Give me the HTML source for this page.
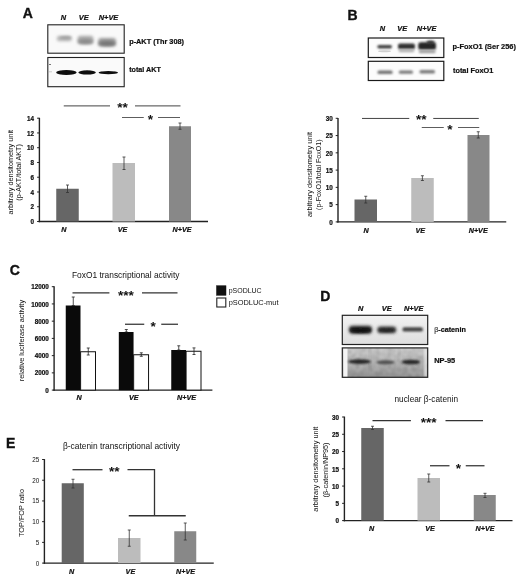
<!DOCTYPE html><html><head><meta charset="utf-8"><title>Figure</title>
<style>html,body{margin:0;padding:0;background:#fff}svg{display:block}text{font-family:'Liberation Sans', Arial, sans-serif}</style></head><body>
<svg width="520" height="579" viewBox="0 0 520 579">
<defs>
<filter id="b1" x="-30%" y="-80%" width="160%" height="260%"><feGaussianBlur stdDeviation="1"/></filter>
<filter id="b15" x="-30%" y="-80%" width="160%" height="260%"><feGaussianBlur stdDeviation="1.5"/></filter>
<filter id="b07" x="-30%" y="-80%" width="160%" height="260%"><feGaussianBlur stdDeviation="0.7"/></filter>
<filter id="b2" x="-30%" y="-80%" width="160%" height="260%"><feGaussianBlur stdDeviation="2"/></filter>
<filter id="noise" x="0" y="0" width="100%" height="100%"><feTurbulence type="fractalNoise" baseFrequency="0.25" numOctaves="2" seed="3"/><feColorMatrix type="matrix" values="0 0 0 0 0  0 0 0 0 0  0 0 0 0 0  0.9 0 0 0 -0.25"/><feGaussianBlur stdDeviation="0.8"/></filter>
<clipPath id="cA1"><rect x="47.8" y="24.8" width="76.4" height="28.4"/></clipPath>
<clipPath id="cA2"><rect x="47.8" y="57.5" width="76.4" height="29.2"/></clipPath>
<clipPath id="cB1"><rect x="368.3" y="38" width="75.5" height="19.5"/></clipPath>
<clipPath id="cB2"><rect x="368.3" y="61.3" width="75.5" height="19.2"/></clipPath>
<clipPath id="cD1"><rect x="342.3" y="315.3" width="85.4" height="29.2"/></clipPath>
<clipPath id="cD2"><rect x="342.3" y="347.9" width="85.4" height="29.4"/></clipPath>
<linearGradient id="gD1" x1="0" y1="0" x2="0" y2="1"><stop offset="0" stop-color="#f2f2f2"/><stop offset="1" stop-color="#dedede"/></linearGradient>
<linearGradient id="gD2" x1="0" y1="0" x2="0" y2="1"><stop offset="0" stop-color="#d2d2d2"/><stop offset="0.5" stop-color="#bdbdbd"/><stop offset="1" stop-color="#9a9a9a"/></linearGradient>
</defs>
<rect width="520" height="579" fill="#fff"/>
<text x="22.7" y="17.9" font-size="14" font-weight="bold" font-style="normal" text-anchor="start" fill="#111" stroke="#111" stroke-width="0.35">A</text>
<text x="63.5" y="19.8" font-size="7.4" font-weight="bold" font-style="italic" text-anchor="middle" fill="#111" stroke="#111" stroke-width="0.22">N</text>
<text x="83.8" y="19.8" font-size="7.4" font-weight="bold" font-style="italic" text-anchor="middle" fill="#111" stroke="#111" stroke-width="0.22">VE</text>
<text x="108.5" y="19.8" font-size="7.4" font-weight="bold" font-style="italic" text-anchor="middle" fill="#111" stroke="#111" stroke-width="0.22">N+VE</text>
<g clip-path="url(#cA1)">
<rect x="47.8" y="24.8" width="76.4" height="28.4" fill="#f9f9f9" />
<rect x="56.8" y="35.8" width="15.0" height="5.400000000000006" rx="2.5" fill="#b8b8b8" opacity="1" filter="url(#b15)"/>
<ellipse cx="65.5" cy="37.8" rx="6.0" ry="1.5" fill="#a0a0a0" opacity="1" filter="url(#b1)"/>
<rect x="77.6" y="35.8" width="15.800000000000011" height="8.400000000000006" rx="3" fill="#acacac" opacity="1" filter="url(#b15)"/>
<ellipse cx="85.4" cy="41.5" rx="7.5" ry="2.5" fill="#8a8a8a" opacity="1" filter="url(#b15)"/>
<rect x="98.2" y="38" width="17.799999999999997" height="8.399999999999999" rx="3" fill="#9c9c9c" opacity="1" filter="url(#b15)"/>
<ellipse cx="107" cy="43.4" rx="8.5" ry="2.5" fill="#747474" opacity="1" filter="url(#b15)"/>
</g>
<rect x="47.8" y="24.8" width="76.4" height="28.4" fill="none" stroke="#222" stroke-width="1.1" />
<g clip-path="url(#cA2)">
<rect x="47.8" y="57.5" width="76.4" height="29.2" fill="#fafafa" />
<ellipse cx="66.4" cy="72.6" rx="10.25" ry="2.5" fill="#0c0c0c" opacity="1" filter="url(#b07)"/>
<ellipse cx="87.1" cy="72.4" rx="8.75" ry="2.1" fill="#0c0c0c" opacity="1" filter="url(#b07)"/>
<ellipse cx="108.3" cy="72.6" rx="9.75" ry="1.7" fill="#0c0c0c" opacity="1" filter="url(#b07)"/>
</g>
<rect x="47.8" y="57.5" width="76.4" height="29.2" fill="none" stroke="#222" stroke-width="1.1" />
<line x1="49" y1="64.5" x2="51" y2="64.5" stroke="#555" stroke-width="0.8"/>
<line x1="48.5" y1="71.8" x2="52" y2="71.8" stroke="#aaa" stroke-width="0.6"/>
<text x="129.2" y="44.2" font-size="7.3" font-weight="bold" font-style="normal" text-anchor="start" fill="#111" textLength="54.8" lengthAdjust="spacingAndGlyphs" stroke="#111" stroke-width="0.22">p-AKT (Thr 308)</text>
<text x="129.2" y="72.1" font-size="7.3" font-weight="bold" font-style="normal" text-anchor="start" fill="#111" textLength="31.7" lengthAdjust="spacingAndGlyphs" stroke="#111" stroke-width="0.22">total AKT</text>
<line x1="39.4" y1="117.8" x2="39.4" y2="222.2" stroke="#222" stroke-width="1.4"/>
<line x1="38.699999999999996" y1="221.5" x2="208" y2="221.5" stroke="#222" stroke-width="1.4"/>
<line x1="37.1" y1="221.5" x2="39.4" y2="221.5" stroke="#222" stroke-width="1"/>
<text x="34.1" y="224.2" font-size="6.3" font-weight="bold" font-style="normal" text-anchor="end" fill="#111" stroke="#111" stroke-width="0.22">0</text>
<line x1="37.1" y1="206.74285714285713" x2="39.4" y2="206.74285714285713" stroke="#222" stroke-width="1"/>
<text x="34.1" y="209.44285714285712" font-size="6.3" font-weight="bold" font-style="normal" text-anchor="end" fill="#111" stroke="#111" stroke-width="0.22">2</text>
<line x1="37.1" y1="191.9857142857143" x2="39.4" y2="191.9857142857143" stroke="#222" stroke-width="1"/>
<text x="34.1" y="194.68571428571428" font-size="6.3" font-weight="bold" font-style="normal" text-anchor="end" fill="#111" stroke="#111" stroke-width="0.22">4</text>
<line x1="37.1" y1="177.22857142857143" x2="39.4" y2="177.22857142857143" stroke="#222" stroke-width="1"/>
<text x="34.1" y="179.92857142857142" font-size="6.3" font-weight="bold" font-style="normal" text-anchor="end" fill="#111" stroke="#111" stroke-width="0.22">6</text>
<line x1="37.1" y1="162.4714285714286" x2="39.4" y2="162.4714285714286" stroke="#222" stroke-width="1"/>
<text x="34.1" y="165.17142857142858" font-size="6.3" font-weight="bold" font-style="normal" text-anchor="end" fill="#111" stroke="#111" stroke-width="0.22">8</text>
<line x1="37.1" y1="147.71428571428572" x2="39.4" y2="147.71428571428572" stroke="#222" stroke-width="1"/>
<text x="34.1" y="150.4142857142857" font-size="6.3" font-weight="bold" font-style="normal" text-anchor="end" fill="#111" stroke="#111" stroke-width="0.22">10</text>
<line x1="37.1" y1="132.95714285714286" x2="39.4" y2="132.95714285714286" stroke="#222" stroke-width="1"/>
<text x="34.1" y="135.65714285714284" font-size="6.3" font-weight="bold" font-style="normal" text-anchor="end" fill="#111" stroke="#111" stroke-width="0.22">12</text>
<line x1="37.1" y1="118.2" x2="39.4" y2="118.2" stroke="#222" stroke-width="1"/>
<text x="34.1" y="120.9" font-size="6.3" font-weight="bold" font-style="normal" text-anchor="end" fill="#111" stroke="#111" stroke-width="0.22">14</text>
<rect x="56.25" y="188.75" width="22.5" height="32.75" fill="#666666" />
<rect x="112.5" y="163" width="22.5" height="58.5" fill="#bcbcbc" />
<rect x="169" y="126.25" width="22" height="95.25" fill="#888888" />
<line x1="67.5" y1="185" x2="67.5" y2="192.5" stroke="#333" stroke-width="0.8"/>
<line x1="66.0" y1="185" x2="69.0" y2="185" stroke="#333" stroke-width="0.8"/>
<line x1="66.0" y1="192.5" x2="69.0" y2="192.5" stroke="#333" stroke-width="0.8"/>
<line x1="124" y1="157" x2="124" y2="169.5" stroke="#333" stroke-width="0.8"/>
<line x1="122.5" y1="157" x2="125.5" y2="157" stroke="#333" stroke-width="0.8"/>
<line x1="122.5" y1="169.5" x2="125.5" y2="169.5" stroke="#333" stroke-width="0.8"/>
<line x1="180" y1="123" x2="180" y2="129.25" stroke="#333" stroke-width="0.8"/>
<line x1="178.5" y1="123" x2="181.5" y2="123" stroke="#333" stroke-width="0.8"/>
<line x1="178.5" y1="129.25" x2="181.5" y2="129.25" stroke="#333" stroke-width="0.8"/>
<line x1="63.75" y1="105.9" x2="110" y2="105.9" stroke="#444" stroke-width="1"/>
<line x1="135" y1="105.9" x2="180.5" y2="105.9" stroke="#444" stroke-width="1"/>
<text x="122.6" y="112.24" font-size="13.6" font-weight="bold" font-style="normal" text-anchor="middle" fill="#111" stroke="none">**</text>
<line x1="122" y1="117.5" x2="143.75" y2="117.5" stroke="#333" stroke-width="0.8"/>
<line x1="158" y1="117.5" x2="180" y2="117.5" stroke="#333" stroke-width="0.8"/>
<text x="150.4" y="124.24" font-size="13.6" font-weight="bold" font-style="normal" text-anchor="middle" fill="#111" stroke="none">*</text>
<text x="63.9" y="231.9" font-size="7.2" font-weight="bold" font-style="italic" text-anchor="middle" fill="#111" stroke="#111" stroke-width="0.22">N</text>
<text x="122.6" y="231.9" font-size="7.2" font-weight="bold" font-style="italic" text-anchor="middle" fill="#111" stroke="#111" stroke-width="0.22">VE</text>
<text x="182" y="231.9" font-size="7.2" font-weight="bold" font-style="italic" text-anchor="middle" fill="#111" stroke="#111" stroke-width="0.22">N+VE</text>
<text x="12.8" y="172.2" font-size="7.3" font-weight="normal" font-style="normal" text-anchor="middle" fill="#111" textLength="84.5" lengthAdjust="spacingAndGlyphs" transform="rotate(-90 12.8 172.2)" >arbitrary densitometry unit</text>
<text x="21.4" y="172.4" font-size="7.3" font-weight="normal" font-style="normal" text-anchor="middle" fill="#111" textLength="56.5" lengthAdjust="spacingAndGlyphs" transform="rotate(-90 21.4 172.4)" >(p-AKT/total AKT)</text>
<text x="347.6" y="20.4" font-size="14" font-weight="bold" font-style="normal" text-anchor="start" fill="#111" stroke="#111" stroke-width="0.35">B</text>
<text x="382.5" y="31.3" font-size="7.4" font-weight="bold" font-style="italic" text-anchor="middle" fill="#111" stroke="#111" stroke-width="0.22">N</text>
<text x="402.2" y="31.3" font-size="7.4" font-weight="bold" font-style="italic" text-anchor="middle" fill="#111" stroke="#111" stroke-width="0.22">VE</text>
<text x="426.6" y="31.3" font-size="7.4" font-weight="bold" font-style="italic" text-anchor="middle" fill="#111" stroke="#111" stroke-width="0.22">N+VE</text>
<g clip-path="url(#cB1)">
<rect x="368.3" y="38" width="75.5" height="19.5" fill="#fcfcfc" />
<rect x="377.3" y="44.9" width="14.699999999999989" height="3.5" rx="1.7" fill="#404040" opacity="1" filter="url(#b1)"/>
<ellipse cx="384.5" cy="51.3" rx="6.5" ry="1.0" fill="#d0d0d0" opacity="1" filter="url(#b07)"/>
<rect x="398" y="43.5" width="17" height="5.700000000000003" rx="2" fill="#303030" opacity="1" filter="url(#b1)"/>
<rect x="398.6" y="49.3" width="15.799999999999955" height="2.9000000000000057" rx="1.5" fill="#b0b0b0" opacity="1" filter="url(#b1)"/>
<rect x="418.2" y="42.2" width="17.80000000000001" height="7.599999999999994" rx="2.5" fill="#262626" opacity="1" filter="url(#b1)"/>
<ellipse cx="430.5" cy="42.3" rx="4.0" ry="1.75" fill="#333" opacity="1" filter="url(#b1)"/>
<rect x="418.8" y="50" width="16.80000000000001" height="3.200000000000003" rx="1.5" fill="#a0a0a0" opacity="1" filter="url(#b1)"/>
</g>
<rect x="368.3" y="38" width="75.5" height="19.5" fill="none" stroke="#1a1a1a" stroke-width="1.2" />
<g clip-path="url(#cB2)">
<rect x="368.3" y="61.3" width="75.5" height="19.2" fill="#fcfcfc" />
<rect x="377.5" y="70.4" width="15.100000000000023" height="3.5" rx="1.5" fill="#747474" opacity="1" filter="url(#b1)"/>
<rect x="398.8" y="70.4" width="14.199999999999989" height="3.3999999999999915" rx="1.5" fill="#7a7a7a" opacity="1" filter="url(#b1)"/>
<rect x="419.5" y="70" width="15.5" height="3.4000000000000057" rx="1.5" fill="#7a7a7a" opacity="1" filter="url(#b1)"/>
</g>
<rect x="368.3" y="61.3" width="75.5" height="19.2" fill="none" stroke="#1a1a1a" stroke-width="1.2" />
<text x="452.6" y="49" font-size="7.5" font-weight="bold" font-style="normal" text-anchor="start" fill="#111" textLength="63.3" lengthAdjust="spacingAndGlyphs" stroke="#111" stroke-width="0.22">p-FoxO1 (Ser 256)</text>
<text x="453" y="72.8" font-size="7.5" font-weight="bold" font-style="normal" text-anchor="start" fill="#111" textLength="40.3" lengthAdjust="spacingAndGlyphs" stroke="#111" stroke-width="0.22">total FoxO1</text>
<line x1="338" y1="117.89999999999999" x2="338" y2="222.6" stroke="#222" stroke-width="1.4"/>
<line x1="337.3" y1="221.9" x2="506.25" y2="221.9" stroke="#222" stroke-width="1.4"/>
<line x1="335.7" y1="221.9" x2="338" y2="221.9" stroke="#222" stroke-width="1"/>
<text x="332.7" y="224.6" font-size="6.3" font-weight="bold" font-style="normal" text-anchor="end" fill="#111" stroke="#111" stroke-width="0.22">0</text>
<line x1="335.7" y1="204.63333333333333" x2="338" y2="204.63333333333333" stroke="#222" stroke-width="1"/>
<text x="332.7" y="207.33333333333331" font-size="6.3" font-weight="bold" font-style="normal" text-anchor="end" fill="#111" stroke="#111" stroke-width="0.22">5</text>
<line x1="335.7" y1="187.36666666666667" x2="338" y2="187.36666666666667" stroke="#222" stroke-width="1"/>
<text x="332.7" y="190.06666666666666" font-size="6.3" font-weight="bold" font-style="normal" text-anchor="end" fill="#111" stroke="#111" stroke-width="0.22">10</text>
<line x1="335.7" y1="170.1" x2="338" y2="170.1" stroke="#222" stroke-width="1"/>
<text x="332.7" y="172.79999999999998" font-size="6.3" font-weight="bold" font-style="normal" text-anchor="end" fill="#111" stroke="#111" stroke-width="0.22">15</text>
<line x1="335.7" y1="152.83333333333334" x2="338" y2="152.83333333333334" stroke="#222" stroke-width="1"/>
<text x="332.7" y="155.53333333333333" font-size="6.3" font-weight="bold" font-style="normal" text-anchor="end" fill="#111" stroke="#111" stroke-width="0.22">20</text>
<line x1="335.7" y1="135.56666666666666" x2="338" y2="135.56666666666666" stroke="#222" stroke-width="1"/>
<text x="332.7" y="138.26666666666665" font-size="6.3" font-weight="bold" font-style="normal" text-anchor="end" fill="#111" stroke="#111" stroke-width="0.22">25</text>
<line x1="335.7" y1="118.3" x2="338" y2="118.3" stroke="#222" stroke-width="1"/>
<text x="332.7" y="121.0" font-size="6.3" font-weight="bold" font-style="normal" text-anchor="end" fill="#111" stroke="#111" stroke-width="0.22">30</text>
<rect x="354.5" y="199.5" width="22.5" height="22.400000000000006" fill="#666666" />
<rect x="411.25" y="178" width="22.5" height="43.900000000000006" fill="#bcbcbc" />
<rect x="467.5" y="135" width="22" height="86.9" fill="#888888" />
<line x1="365.75" y1="196.25" x2="365.75" y2="203" stroke="#333" stroke-width="0.8"/>
<line x1="364.25" y1="196.25" x2="367.25" y2="196.25" stroke="#333" stroke-width="0.8"/>
<line x1="364.25" y1="203" x2="367.25" y2="203" stroke="#333" stroke-width="0.8"/>
<line x1="422.4" y1="175.75" x2="422.4" y2="180.5" stroke="#333" stroke-width="0.8"/>
<line x1="420.9" y1="175.75" x2="423.9" y2="175.75" stroke="#333" stroke-width="0.8"/>
<line x1="420.9" y1="180.5" x2="423.9" y2="180.5" stroke="#333" stroke-width="0.8"/>
<line x1="478.25" y1="131.75" x2="478.25" y2="138" stroke="#333" stroke-width="0.8"/>
<line x1="476.75" y1="131.75" x2="479.75" y2="131.75" stroke="#333" stroke-width="0.8"/>
<line x1="476.75" y1="138" x2="479.75" y2="138" stroke="#333" stroke-width="0.8"/>
<line x1="362" y1="118.45" x2="409.25" y2="118.45" stroke="#3a3a3a" stroke-width="0.95"/>
<line x1="433.25" y1="118.45" x2="478.75" y2="118.45" stroke="#3a3a3a" stroke-width="0.95"/>
<text x="421.2" y="124.44" font-size="13.6" font-weight="bold" font-style="normal" text-anchor="middle" fill="#111" stroke="none">**</text>
<line x1="421.75" y1="127.5" x2="443.75" y2="127.5" stroke="#333" stroke-width="0.8"/>
<line x1="458" y1="127.5" x2="479.25" y2="127.5" stroke="#333" stroke-width="0.8"/>
<text x="450" y="134.14" font-size="13.6" font-weight="bold" font-style="normal" text-anchor="middle" fill="#111" stroke="none">*</text>
<text x="366" y="232.5" font-size="7.2" font-weight="bold" font-style="italic" text-anchor="middle" fill="#111" stroke="#111" stroke-width="0.22">N</text>
<text x="420.3" y="232.5" font-size="7.2" font-weight="bold" font-style="italic" text-anchor="middle" fill="#111" stroke="#111" stroke-width="0.22">VE</text>
<text x="478.2" y="232.5" font-size="7.2" font-weight="bold" font-style="italic" text-anchor="middle" fill="#111" stroke="#111" stroke-width="0.22">N+VE</text>
<text x="312" y="174.5" font-size="7.3" font-weight="normal" font-style="normal" text-anchor="middle" fill="#111" textLength="85" lengthAdjust="spacingAndGlyphs" transform="rotate(-90 312 174.5)" >arbitrary densitometry unit</text>
<text x="321.2" y="174.7" font-size="7.3" font-weight="normal" font-style="normal" text-anchor="middle" fill="#111" textLength="70.5" lengthAdjust="spacingAndGlyphs" transform="rotate(-90 321.2 174.7)" >(p-FoxO1/total FoxO1)</text>
<text x="9.7" y="274.9" font-size="14" font-weight="bold" font-style="normal" text-anchor="start" fill="#111" stroke="#111" stroke-width="0.35">C</text>
<text x="72" y="277.7" font-size="8.4" font-weight="normal" font-style="normal" text-anchor="start" fill="#111" textLength="107.5" lengthAdjust="spacingAndGlyphs" >FoxO1 transcriptional activity</text>
<line x1="54.1" y1="286.3" x2="54.1" y2="390.8" stroke="#222" stroke-width="1.4"/>
<line x1="53.4" y1="390.1" x2="212.4" y2="390.1" stroke="#222" stroke-width="1.4"/>
<line x1="51.800000000000004" y1="390.1" x2="54.1" y2="390.1" stroke="#222" stroke-width="1"/>
<text x="48.85" y="392.70000000000005" font-size="6.3" font-weight="bold" font-style="normal" text-anchor="end" fill="#111" stroke="#111" stroke-width="0.22">0</text>
<line x1="51.800000000000004" y1="372.8666666666667" x2="54.1" y2="372.8666666666667" stroke="#222" stroke-width="1"/>
<text x="48.85" y="375.4666666666667" font-size="6.3" font-weight="bold" font-style="normal" text-anchor="end" fill="#111" stroke="#111" stroke-width="0.22">2000</text>
<line x1="51.800000000000004" y1="355.6333333333333" x2="54.1" y2="355.6333333333333" stroke="#222" stroke-width="1"/>
<text x="48.85" y="358.23333333333335" font-size="6.3" font-weight="bold" font-style="normal" text-anchor="end" fill="#111" stroke="#111" stroke-width="0.22">4000</text>
<line x1="51.800000000000004" y1="338.4" x2="54.1" y2="338.4" stroke="#222" stroke-width="1"/>
<text x="48.85" y="341.0" font-size="6.3" font-weight="bold" font-style="normal" text-anchor="end" fill="#111" stroke="#111" stroke-width="0.22">6000</text>
<line x1="51.800000000000004" y1="321.1666666666667" x2="54.1" y2="321.1666666666667" stroke="#222" stroke-width="1"/>
<text x="48.85" y="323.7666666666667" font-size="6.3" font-weight="bold" font-style="normal" text-anchor="end" fill="#111" stroke="#111" stroke-width="0.22">8000</text>
<line x1="51.800000000000004" y1="303.93333333333334" x2="54.1" y2="303.93333333333334" stroke="#222" stroke-width="1"/>
<text x="48.85" y="306.53333333333336" font-size="6.3" font-weight="bold" font-style="normal" text-anchor="end" fill="#111" stroke="#111" stroke-width="0.22">10000</text>
<line x1="51.800000000000004" y1="286.7" x2="54.1" y2="286.7" stroke="#222" stroke-width="1"/>
<text x="48.85" y="289.3" font-size="6.3" font-weight="bold" font-style="normal" text-anchor="end" fill="#111" stroke="#111" stroke-width="0.22">12000</text>
<rect x="65.75" y="305.5" width="14.75" height="84.60000000000002" fill="#0a0a0a" />
<rect x="80.6" y="351.75" width="14.9" height="38.35000000000002" fill="#fff" stroke="#111" stroke-width="1" />
<rect x="118.8" y="332" width="14.75" height="58.10000000000002" fill="#0a0a0a" />
<rect x="133.65" y="354.75" width="14.9" height="35.35000000000002" fill="#fff" stroke="#111" stroke-width="1" />
<rect x="171.25" y="350" width="14.75" height="40.10000000000002" fill="#0a0a0a" />
<rect x="186.1" y="351.25" width="14.9" height="38.85000000000002" fill="#fff" stroke="#111" stroke-width="1" />
<line x1="73.25" y1="297" x2="73.25" y2="305.5" stroke="#222" stroke-width="0.8"/>
<line x1="71.75" y1="297" x2="74.75" y2="297" stroke="#222" stroke-width="0.8"/>
<line x1="71.75" y1="305.5" x2="74.75" y2="305.5" stroke="#222" stroke-width="0.8"/>
<line x1="88.25" y1="348" x2="88.25" y2="355" stroke="#222" stroke-width="0.8"/>
<line x1="86.75" y1="348" x2="89.75" y2="348" stroke="#222" stroke-width="0.8"/>
<line x1="86.75" y1="355" x2="89.75" y2="355" stroke="#222" stroke-width="0.8"/>
<line x1="126.3" y1="329.5" x2="126.3" y2="332" stroke="#222" stroke-width="0.8"/>
<line x1="124.8" y1="329.5" x2="127.8" y2="329.5" stroke="#222" stroke-width="0.8"/>
<line x1="124.8" y1="332" x2="127.8" y2="332" stroke="#222" stroke-width="0.8"/>
<line x1="141.3" y1="352.8" x2="141.3" y2="356.3" stroke="#222" stroke-width="0.8"/>
<line x1="139.8" y1="352.8" x2="142.8" y2="352.8" stroke="#222" stroke-width="0.8"/>
<line x1="139.8" y1="356.3" x2="142.8" y2="356.3" stroke="#222" stroke-width="0.8"/>
<line x1="178.75" y1="345.8" x2="178.75" y2="350" stroke="#222" stroke-width="0.8"/>
<line x1="177.25" y1="345.8" x2="180.25" y2="345.8" stroke="#222" stroke-width="0.8"/>
<line x1="177.25" y1="350" x2="180.25" y2="350" stroke="#222" stroke-width="0.8"/>
<line x1="194" y1="347.9" x2="194" y2="354.5" stroke="#222" stroke-width="0.8"/>
<line x1="192.5" y1="347.9" x2="195.5" y2="347.9" stroke="#222" stroke-width="0.8"/>
<line x1="192.5" y1="354.5" x2="195.5" y2="354.5" stroke="#222" stroke-width="0.8"/>
<line x1="72.5" y1="292.8" x2="109.4" y2="292.8" stroke="#333" stroke-width="1.25"/>
<line x1="142" y1="292.8" x2="177.5" y2="292.8" stroke="#333" stroke-width="1.25"/>
<text x="125.9" y="299.54" font-size="13.6" font-weight="bold" font-style="normal" text-anchor="middle" fill="#111" stroke="none">***</text>
<line x1="125" y1="324.25" x2="144.25" y2="324.25" stroke="#333" stroke-width="1.25"/>
<line x1="161.25" y1="324.25" x2="178" y2="324.25" stroke="#333" stroke-width="1.25"/>
<text x="153.2" y="331.14" font-size="13.6" font-weight="bold" font-style="normal" text-anchor="middle" fill="#111" stroke="none">*</text>
<text x="79.2" y="399.8" font-size="7.2" font-weight="bold" font-style="italic" text-anchor="middle" fill="#111" stroke="#111" stroke-width="0.22">N</text>
<text x="133.75" y="399.7" font-size="7.2" font-weight="bold" font-style="italic" text-anchor="middle" fill="#111" stroke="#111" stroke-width="0.22">VE</text>
<text x="186.6" y="399.7" font-size="7.2" font-weight="bold" font-style="italic" text-anchor="middle" fill="#111" stroke="#111" stroke-width="0.22">N+VE</text>
<text x="24.5" y="340.6" font-size="7.3" font-weight="normal" font-style="normal" text-anchor="middle" fill="#111" textLength="81.3" lengthAdjust="spacingAndGlyphs" transform="rotate(-90 24.5 340.6)" >relative luciferase activity</text>
<rect x="216.5" y="285.75" width="9.5" height="9.5" fill="#111" stroke="#111" stroke-width="0.5" />
<rect x="216.8" y="298" width="9" height="9" fill="#fff" stroke="#222" stroke-width="1.1" />
<text x="228.75" y="293.2" font-size="7.4" font-weight="normal" font-style="normal" text-anchor="start" fill="#111" textLength="32.9" lengthAdjust="spacingAndGlyphs" >pSODLUC</text>
<text x="228.75" y="305.2" font-size="7.4" font-weight="normal" font-style="normal" text-anchor="start" fill="#111" textLength="49.7" lengthAdjust="spacingAndGlyphs" >pSODLUC-mut</text>
<text x="320.2" y="301.3" font-size="14" font-weight="bold" font-style="normal" text-anchor="start" fill="#111" stroke="#111" stroke-width="0.35">D</text>
<text x="360.7" y="310.8" font-size="7.4" font-weight="bold" font-style="italic" text-anchor="middle" fill="#111" stroke="#111" stroke-width="0.22">N</text>
<text x="386.8" y="310.8" font-size="7.4" font-weight="bold" font-style="italic" text-anchor="middle" fill="#111" stroke="#111" stroke-width="0.22">VE</text>
<text x="413.7" y="310.8" font-size="7.4" font-weight="bold" font-style="italic" text-anchor="middle" fill="#111" stroke="#111" stroke-width="0.22">N+VE</text>
<g clip-path="url(#cD1)">
<rect x="342.3" y="315.3" width="85.4" height="29.2" fill="url(#gD1)" />
<rect x="348.8" y="325.8" width="23.399999999999977" height="8.0" rx="4" fill="#242424" opacity="1" filter="url(#b15)"/>
<ellipse cx="360.4" cy="330.4" rx="10.0" ry="2.0" fill="#111" opacity="1" filter="url(#b1)"/>
<rect x="377.3" y="326.6" width="18.899999999999977" height="6.599999999999966" rx="3.3" fill="#343434" opacity="1" filter="url(#b15)"/>
<ellipse cx="386.5" cy="330.3" rx="7.5" ry="1.5" fill="#222" opacity="1" filter="url(#b1)"/>
<rect x="402.4" y="327.2" width="20.600000000000023" height="4.400000000000034" rx="2.2" fill="#444" opacity="1" filter="url(#b1)"/>
</g>
<rect x="342.3" y="315.3" width="85.4" height="29.2" fill="none" stroke="#222" stroke-width="1.2" />
<g clip-path="url(#cD2)">
<rect x="342.3" y="347.9" width="85.4" height="29.4" fill="url(#gD2)" />
<rect x="342.3" y="347.9" width="85.4" height="29.4" fill="#000" filter="url(#noise)" opacity="0.35"/>
<rect x="343.3" y="347.9" width="4.2" height="29.4" fill="#f4f4f4" filter="url(#b07)"/>
<rect x="424.3" y="347.9" width="2.8" height="29.4" fill="#eee" filter="url(#b1)" opacity="0.8"/>
<rect x="369.3" y="347.9" width="1.4" height="29.4" fill="#888" filter="url(#b1)" opacity="0.4"/>
<rect x="398.3" y="347.9" width="1.4" height="29.4" fill="#999" filter="url(#b1)" opacity="0.35"/>
<ellipse cx="359.5" cy="361.6" rx="11.5" ry="2.3" fill="#262626" opacity="1" filter="url(#b1)"/>
<ellipse cx="385.5" cy="362.3" rx="9.5" ry="2.0" fill="#505050" opacity="1" filter="url(#b1)"/>
<ellipse cx="411" cy="362" rx="9.25" ry="2.3" fill="#262626" opacity="1" filter="url(#b1)"/>
</g>
<rect x="342.3" y="347.9" width="85.4" height="29.4" fill="none" stroke="#222" stroke-width="1.2" />
<text x="434.2" y="331.8" font-size="7.4" font-weight="bold" font-style="normal" text-anchor="start" fill="#111" textLength="31.7" lengthAdjust="spacingAndGlyphs" stroke="#111" stroke-width="0.22"><tspan font-weight="normal" fill="#777">β</tspan>-catenin</text>
<text x="434.2" y="362.7" font-size="7.4" font-weight="bold" font-style="normal" text-anchor="start" fill="#111" textLength="21" lengthAdjust="spacingAndGlyphs" stroke="#111" stroke-width="0.22">NP-95</text>
<text x="394.5" y="402.2" font-size="8.3" font-weight="normal" font-style="normal" text-anchor="start" fill="#111" textLength="63.5" lengthAdjust="spacingAndGlyphs" >nuclear β-catenin</text>
<line x1="344.4" y1="416.6" x2="344.4" y2="521.3000000000001" stroke="#222" stroke-width="1.4"/>
<line x1="343.7" y1="520.6" x2="512.5" y2="520.6" stroke="#222" stroke-width="1.4"/>
<line x1="342.09999999999997" y1="520.6" x2="344.4" y2="520.6" stroke="#222" stroke-width="1"/>
<text x="339.09999999999997" y="523.3000000000001" font-size="6.3" font-weight="bold" font-style="normal" text-anchor="end" fill="#111" stroke="#111" stroke-width="0.22">0</text>
<line x1="342.09999999999997" y1="503.33333333333337" x2="344.4" y2="503.33333333333337" stroke="#222" stroke-width="1"/>
<text x="339.09999999999997" y="506.03333333333336" font-size="6.3" font-weight="bold" font-style="normal" text-anchor="end" fill="#111" stroke="#111" stroke-width="0.22">5</text>
<line x1="342.09999999999997" y1="486.06666666666666" x2="344.4" y2="486.06666666666666" stroke="#222" stroke-width="1"/>
<text x="339.09999999999997" y="488.76666666666665" font-size="6.3" font-weight="bold" font-style="normal" text-anchor="end" fill="#111" stroke="#111" stroke-width="0.22">10</text>
<line x1="342.09999999999997" y1="468.8" x2="344.4" y2="468.8" stroke="#222" stroke-width="1"/>
<text x="339.09999999999997" y="471.5" font-size="6.3" font-weight="bold" font-style="normal" text-anchor="end" fill="#111" stroke="#111" stroke-width="0.22">15</text>
<line x1="342.09999999999997" y1="451.53333333333336" x2="344.4" y2="451.53333333333336" stroke="#222" stroke-width="1"/>
<text x="339.09999999999997" y="454.23333333333335" font-size="6.3" font-weight="bold" font-style="normal" text-anchor="end" fill="#111" stroke="#111" stroke-width="0.22">20</text>
<line x1="342.09999999999997" y1="434.26666666666665" x2="344.4" y2="434.26666666666665" stroke="#222" stroke-width="1"/>
<text x="339.09999999999997" y="436.96666666666664" font-size="6.3" font-weight="bold" font-style="normal" text-anchor="end" fill="#111" stroke="#111" stroke-width="0.22">25</text>
<line x1="342.09999999999997" y1="417.0" x2="344.4" y2="417.0" stroke="#222" stroke-width="1"/>
<text x="339.09999999999997" y="419.7" font-size="6.3" font-weight="bold" font-style="normal" text-anchor="end" fill="#111" stroke="#111" stroke-width="0.22">30</text>
<rect x="361.25" y="428" width="22.5" height="92.60000000000002" fill="#666666" />
<rect x="417.5" y="478" width="22.5" height="42.60000000000002" fill="#bcbcbc" />
<rect x="473.75" y="495" width="22" height="25.600000000000023" fill="#888888" />
<line x1="372.5" y1="426.25" x2="372.5" y2="429.5" stroke="#333" stroke-width="0.8"/>
<line x1="371.0" y1="426.25" x2="374.0" y2="426.25" stroke="#333" stroke-width="0.8"/>
<line x1="371.0" y1="429.5" x2="374.0" y2="429.5" stroke="#333" stroke-width="0.8"/>
<line x1="428.75" y1="474" x2="428.75" y2="482" stroke="#333" stroke-width="0.8"/>
<line x1="427.25" y1="474" x2="430.25" y2="474" stroke="#333" stroke-width="0.8"/>
<line x1="427.25" y1="482" x2="430.25" y2="482" stroke="#333" stroke-width="0.8"/>
<line x1="485" y1="493.3" x2="485" y2="497.5" stroke="#333" stroke-width="0.8"/>
<line x1="483.5" y1="493.3" x2="486.5" y2="493.3" stroke="#333" stroke-width="0.8"/>
<line x1="483.5" y1="497.5" x2="486.5" y2="497.5" stroke="#333" stroke-width="0.8"/>
<line x1="372.5" y1="420.7" x2="410.9" y2="420.7" stroke="#333" stroke-width="1.25"/>
<line x1="445.5" y1="420.7" x2="483" y2="420.7" stroke="#333" stroke-width="1.25"/>
<text x="428.6" y="426.84" font-size="13.6" font-weight="bold" font-style="normal" text-anchor="middle" fill="#111" stroke="none">***</text>
<line x1="430" y1="465.75" x2="449.5" y2="465.75" stroke="#333" stroke-width="1.25"/>
<line x1="465.75" y1="465.75" x2="484.5" y2="465.75" stroke="#333" stroke-width="1.25"/>
<text x="458.3" y="472.54" font-size="13.6" font-weight="bold" font-style="normal" text-anchor="middle" fill="#111" stroke="none">*</text>
<text x="371.5" y="530.7" font-size="7.2" font-weight="bold" font-style="italic" text-anchor="middle" fill="#111" stroke="#111" stroke-width="0.22">N</text>
<text x="430" y="530.7" font-size="7.2" font-weight="bold" font-style="italic" text-anchor="middle" fill="#111" stroke="#111" stroke-width="0.22">VE</text>
<text x="485" y="530.7" font-size="7.2" font-weight="bold" font-style="italic" text-anchor="middle" fill="#111" stroke="#111" stroke-width="0.22">N+VE</text>
<text x="318" y="469.2" font-size="7.3" font-weight="normal" font-style="normal" text-anchor="middle" fill="#111" textLength="85" lengthAdjust="spacingAndGlyphs" transform="rotate(-90 318 469.2)" >arbitrary densitometry unit</text>
<text x="327.5" y="470" font-size="7.3" font-weight="normal" font-style="normal" text-anchor="middle" fill="#111" textLength="55" lengthAdjust="spacingAndGlyphs" transform="rotate(-90 327.5 470)" >(β-catenin/NP95)</text>
<text x="6" y="447.9" font-size="14" font-weight="bold" font-style="normal" text-anchor="start" fill="#111" stroke="#111" stroke-width="0.35">E</text>
<text x="63" y="449.2" font-size="8.4" font-weight="normal" font-style="normal" text-anchor="start" fill="#111" textLength="117" lengthAdjust="spacingAndGlyphs" >β-catenin transcriptional activity</text>
<line x1="44.4" y1="459.1" x2="44.4" y2="563.8000000000001" stroke="#222" stroke-width="1.4"/>
<line x1="43.699999999999996" y1="563.1" x2="213.75" y2="563.1" stroke="#222" stroke-width="1.4"/>
<line x1="42.1" y1="563.1" x2="44.4" y2="563.1" stroke="#222" stroke-width="1"/>
<text x="39.25" y="565.6" font-size="6.3" font-weight="normal" font-style="normal" text-anchor="end" fill="#111" >0</text>
<line x1="42.1" y1="542.38" x2="44.4" y2="542.38" stroke="#222" stroke-width="1"/>
<text x="39.25" y="544.88" font-size="6.3" font-weight="normal" font-style="normal" text-anchor="end" fill="#111" >5</text>
<line x1="42.1" y1="521.66" x2="44.4" y2="521.66" stroke="#222" stroke-width="1"/>
<text x="39.25" y="524.16" font-size="6.3" font-weight="normal" font-style="normal" text-anchor="end" fill="#111" >10</text>
<line x1="42.1" y1="500.94" x2="44.4" y2="500.94" stroke="#222" stroke-width="1"/>
<text x="39.25" y="503.44" font-size="6.3" font-weight="normal" font-style="normal" text-anchor="end" fill="#111" >15</text>
<line x1="42.1" y1="480.22" x2="44.4" y2="480.22" stroke="#222" stroke-width="1"/>
<text x="39.25" y="482.72" font-size="6.3" font-weight="normal" font-style="normal" text-anchor="end" fill="#111" >20</text>
<line x1="42.1" y1="459.5" x2="44.4" y2="459.5" stroke="#222" stroke-width="1"/>
<text x="39.25" y="462.0" font-size="6.3" font-weight="normal" font-style="normal" text-anchor="end" fill="#111" >25</text>
<rect x="61.7" y="483.25" width="22.1" height="79.85000000000002" fill="#666666" />
<rect x="118" y="538" width="22.5" height="25.100000000000023" fill="#bcbcbc" />
<rect x="174.25" y="531.25" width="22" height="31.850000000000023" fill="#888888" />
<line x1="73" y1="479.25" x2="73" y2="488" stroke="#333" stroke-width="0.8"/>
<line x1="71.5" y1="479.25" x2="74.5" y2="479.25" stroke="#333" stroke-width="0.8"/>
<line x1="71.5" y1="488" x2="74.5" y2="488" stroke="#333" stroke-width="0.8"/>
<line x1="129.25" y1="530" x2="129.25" y2="546.25" stroke="#333" stroke-width="0.8"/>
<line x1="127.75" y1="530" x2="130.75" y2="530" stroke="#333" stroke-width="0.8"/>
<line x1="127.75" y1="546.25" x2="130.75" y2="546.25" stroke="#333" stroke-width="0.8"/>
<line x1="185.25" y1="523" x2="185.25" y2="540" stroke="#333" stroke-width="0.8"/>
<line x1="183.75" y1="523" x2="186.75" y2="523" stroke="#333" stroke-width="0.8"/>
<line x1="183.75" y1="540" x2="186.75" y2="540" stroke="#333" stroke-width="0.8"/>
<line x1="72.5" y1="469.7" x2="102.5" y2="469.7" stroke="#333" stroke-width="1.3"/>
<path d="M127.5 469.7 H154.5 V515.75 M128.75 515.75 H185.75" fill="none" stroke="#333" stroke-width="1.3"/>
<text x="114.3" y="476.44" font-size="13.6" font-weight="bold" font-style="normal" text-anchor="middle" fill="#111" stroke="none">**</text>
<text x="71.6" y="573.5" font-size="7.2" font-weight="bold" font-style="italic" text-anchor="middle" fill="#111" stroke="#111" stroke-width="0.22">N</text>
<text x="130.4" y="573.5" font-size="7.2" font-weight="bold" font-style="italic" text-anchor="middle" fill="#111" stroke="#111" stroke-width="0.22">VE</text>
<text x="185.6" y="573.5" font-size="7.2" font-weight="bold" font-style="italic" text-anchor="middle" fill="#111" stroke="#111" stroke-width="0.22">N+VE</text>
<text x="24" y="513" font-size="7.5" font-weight="normal" font-style="normal" text-anchor="middle" fill="#111" textLength="48" lengthAdjust="spacingAndGlyphs" transform="rotate(-90 24 513)" >TOP/FOP ratio</text>
</svg></body></html>
